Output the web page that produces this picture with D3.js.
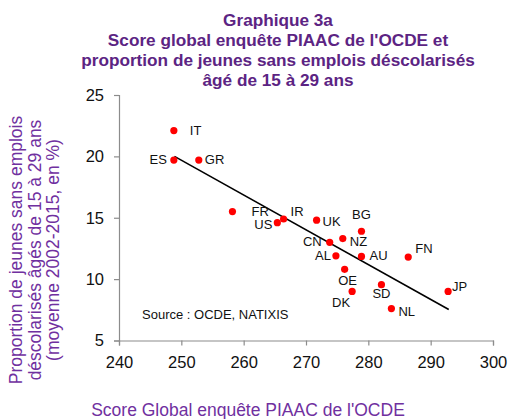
<!DOCTYPE html>
<html><head><meta charset="utf-8">
<script src="https://cdn.jsdelivr.net/npm/d3@7"></script>
<style>body{margin:0;background:#fff}svg{display:block}</style>
</head><body>
<script>
// ---- data ----
const countries = ["IT","ES","GR","FR","US","IR","UK","BG","NZ","CN","AL","AU","FN","OE","SD","DK","JP","NL"];
const scores    = [248.8,248.8,252.8,258.2,265.4,266.4,271.7,278.9,275.9,273.8,274.8,278.9,286.4,276.2,282.1,277.4,292.8,283.7];
const neetShare = [22.1,19.7,19.7,15.5,14.6,14.9,14.8,13.9,13.3,13.0,11.9,11.85,11.8,10.8,9.55,9.0,9.0,7.6];
const trendX = [248.9, 292.9];
const trendY = [20.0, 7.52];
const xTicks = [240,250,260,270,280,290,300];
const yTicks = [5,10,15,20,25];
const titleLines = ["Graphique 3a","Score global enquête PIAAC de l'OCDE et","proportion de jeunes sans emplois déscolarisés","âgé de 15 à 29 ans"];
const yTitleLines = ["Proportion de jeunes sans emplois","déscolarisés âgés de 15 à 29 ans","(moyenne 2002-2015, en %)"];
const xTitle = "Score Global enquête PIAAC de l'OCDE";
const sourceText = "Source : OCDE, NATIXIS";

// ---- layout ----
const W = 509, H = 419;
const svg = d3.select("body").append("svg").attr("width", W).attr("height", H);
const font = "'Liberation Sans', Arial, sans-serif";
const x = d3.scaleLinear().domain([240,300]).range([119,493]);
const y = d3.scaleLinear().domain([5,25]).range([340.5,95]);

// label placement (dx, dy, anchor)
const labelPos = {
  IT:[16,4,"start"], ES:[-7,4,"end"], GR:[6,4,"start"], FR:[19,4,"start"],
  US:[-5,6,"end"], IR:[7,-3,"start"], UK:[6,6,"start"], BG:[0,-12,"middle"],
  NZ:[7,7,"start"], CN:[-8,4,"end"], AL:[-5,4,"end"], AU:[8,4,"start"],
  FN:[7,-4,"start"], OE:[3,16,"middle"], SD:[0,13,"middle"], DK:[-2,16,"end"],
  JP:[4,0,"start"], NL:[7,7,"start"]
};

// title
svg.append("text").attr("text-anchor","middle")
  .attr("font-family", font).attr("font-weight","bold").attr("font-size",17.2).attr("fill","#5C2483")
  .selectAll("tspan").data(titleLines).join("tspan")
  .attr("x", 278).attr("y", (d,i)=>25.5 + i*20.2).text(d=>d);

// axes
const axisColor = "#8c8c8c";
const gx = svg.append("g").attr("transform", `translate(0,${y(5)})`)
  .call(d3.axisBottom(x).tickValues(xTicks).tickSize(5).tickPadding(11).tickFormat(d3.format("d")));
const gy = svg.append("g").attr("transform", `translate(${x(240)},0)`)
  .call(d3.axisLeft(y).tickValues(yTicks).tickSize(5).tickPadding(10).tickFormat(d3.format("d")));
[gx, gy].forEach(g => {
  g.select(".domain").attr("stroke", axisColor).attr("stroke-width",1.2);
  g.selectAll(".tick line").attr("stroke", axisColor).attr("stroke-width",1.2);
  g.selectAll(".tick text").attr("font-family", font).attr("font-size",16.5).attr("fill","#111");
});

// trend line
svg.append("line")
  .attr("x1", x(trendX[0])).attr("y1", y(trendY[0]))
  .attr("x2", x(trendX[1])).attr("y2", y(trendY[1]))
  .attr("stroke","#000").attr("stroke-width",1.6);

// points
const pts = countries.map((c,i)=>({c, sx:scores[i], sy:neetShare[i]}));
svg.append("g").selectAll("circle").data(pts).join("circle")
  .attr("cx", d=>x(d.sx)).attr("cy", d=>y(d.sy)).attr("r",3.6).attr("fill","#ff0000");

svg.append("g").selectAll("text").data(pts).join("text")
  .attr("x", d=>x(d.sx)+labelPos[d.c][0]).attr("y", d=>y(d.sy)+labelPos[d.c][1])
  .attr("text-anchor", d=>labelPos[d.c][2])
  .attr("font-family", font).attr("font-size",13).attr("fill","#111").text(d=>d.c);

// source
svg.append("text").attr("x",142).attr("y",319).attr("font-family",font).attr("font-size",13)
  .attr("fill","#111").text(sourceText);

// y title
const yt = svg.append("text").attr("transform","translate(0,250) rotate(-90)")
  .attr("text-anchor","middle").attr("font-family",font).attr("font-size",17.5).attr("fill","#7030A0");
yt.selectAll("tspan").data(yTitleLines).join("tspan")
  .attr("x",0).attr("y",(d,i)=>22 + i*18.5).text(d=>d);

// x title
svg.append("text").attr("x",248).attr("y",416).attr("text-anchor","middle")
  .attr("font-family",font).attr("font-size",17.5).attr("fill","#7030A0").text(xTitle);
</script>
</body></html>
